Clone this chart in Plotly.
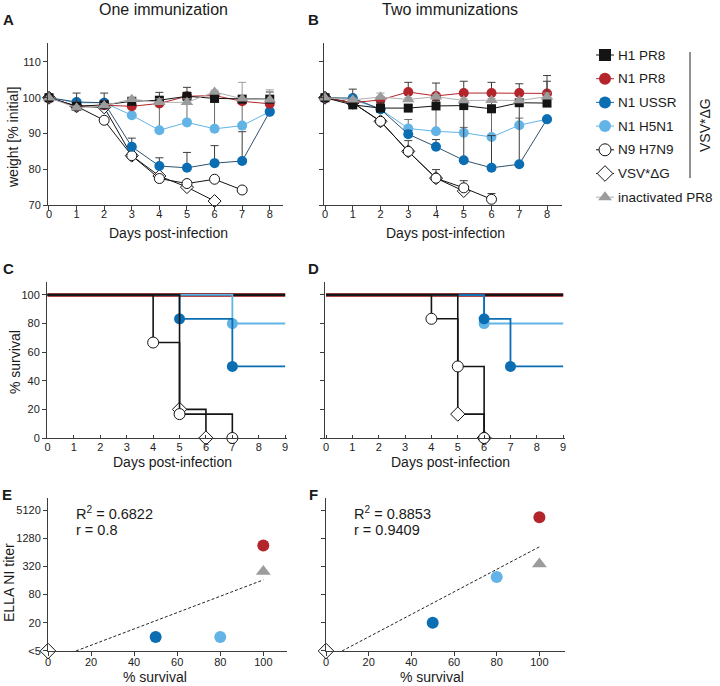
import plotly.graph_objects as go

# ---------------- data ----------------
series = ["H1 PR8", "N1 PR8", "N1 USSR", "N1 H5N1", "N9 H7N9", "VSV*ΔG", "inactivated PR8"]
days = [0, 1, 2, 3, 4, 5, 6, 7, 8]

# one immunization: mean weight [% initial]
w1_H1 = [100, 97.6, 98.0, 99.0, 99.3, 100.4, 99.8, 99.6, 99.6]
w1_N1PR8 = [100, 97.6, 97.9, 97.6, 98.4, 100.4, 100.6, 99.0, 98.3]
w1_USSR = [100, 98.8, 98.6, 86.3, 80.9, 80.4, 81.7, 82.3, 96.1]
w1_H5N1 = [100, 98.6, 98.6, 95.1, 90.9, 93.1, 91.3, 92.2, 96.1]
w1_H7N9 = [100, 97.6, 93.7, 83.8, 77.4, 76.0, 77.2, 74.2, None]
w1_VSV = [100, 97.6, 97.3, 83.8, 78.1, 75.0, 71.1, None, None]
w1_inact = [100, 97.2, 97.8, 99.6, 98.7, 98.7, 101.6, 99.7, 99.4]
# upper error bars
e1_H1 = [0, 3.7, 3.3, 0.5, 2.2, 2.5, 1.0, 1.0, 2.0]
e1_N1PR8 = [0, 0, 0, 0.8, 1.0, 1.0, 1.0, 0.8, 1.0]
e1_USSR = [0, 0.5, 0.5, 2.4, 2.3, 4.3, 4.9, 8.2, 0]
e1_H5N1 = [0, 0, 0, 3.0, 8.5, 5.4, 8.5, 6.5, 0]
e1_H7N9 = [0, 0, 0, 0, 0, 0, 0, 0, 0]
e1_VSV = [0, 0, 0, 0, 0, 0, 0, 0, 0]
e1_inact = [0, 0.5, 0.5, 0.3, 1.0, 1.0, 0.5, 4.6, 2.8]

# two immunizations
w2_H1 = [100, 98.0, 97.1, 97.1, 97.7, 97.8, 96.9, 98.6, 98.5]
w2_N1PR8 = [100, 98.6, 99.4, 101.6, 100.5, 101.3, 101.3, 101.3, 101.2]
w2_USSR = [100, 99.9, 96.8, 89.8, 86.3, 82.5, 80.4, 81.4, 94.0]
w2_H5N1 = [100, 99.5, 96.8, 91.4, 90.6, 90.2, 89.0, 92.3, 94.0]
w2_H7N9 = [100, 98.6, 93.4, 85.0, 77.5, 74.8, 71.6, None, None]
w2_VSV = [100, 98.6, 93.4, 85.0, 77.5, 73.9, None, None, None]
w2_inact = [100, 99.4, 100.2, 99.5, 100.3, 99.2, 99.3, 99.2, 100.3]
e2_H1 = [0, 4.4, 1.5, 1.0, 1.5, 1.0, 1.0, 1.0, 7.7]
e2_N1PR8 = [0, 0, 0.6, 2.7, 3.6, 3.3, 3.0, 2.6, 3.4]
e2_USSR = [0, 0, 0, 1.0, 2.0, 15.3, 9.0, 17.2, 0]
e2_H5N1 = [0, 0, 0, 2.5, 7.0, 1.5, 10.0, 2.0, 0]
e2_H7N9 = [0, 0, 0, 3.0, 2.4, 2.0, 1.6, 0, 0]
e2_VSV = [0, 0, 0, 0, 0, 0, 0, 0, 0]
e2_inact = [0, 0.5, 1.1, 0.5, 0.5, 0.5, 0.5, 0.5, 1.0]

# survival (Kaplan-Meier event times / % survival)
follow_up_end = 9
s1_H1_t, s1_H1_v = [0], [100]
s1_N1PR8_t, s1_N1PR8_v = [0], [100]
s1_inact_t, s1_inact_v = [0], [100]
s1_USSR_t, s1_USSR_v = [0, 5, 7], [100, 83.3, 50]
s1_H5N1_t, s1_H5N1_v = [0, 7], [100, 80]
s1_H7N9_t, s1_H7N9_v = [0, 4, 5, 7], [100, 66.7, 16.7, 0]
s1_VSV_t, s1_VSV_v = [0, 5, 6], [100, 20, 0]

s2_H1_t, s2_H1_v = [0], [100]
s2_N1PR8_t, s2_N1PR8_v = [0], [100]
s2_inact_t, s2_inact_v = [0], [100]
s2_USSR_t, s2_USSR_v = [0, 6, 7], [100, 83.3, 50]
s2_H5N1_t, s2_H5N1_v = [0, 6], [100, 80]
s2_H7N9_t, s2_H7N9_v = [0, 4, 5, 6], [100, 83.3, 50, 0]
s2_VSV_t, s2_VSV_v = [0, 5, 6], [100, 16.7, 0]

# correlation: survival vs ELLA NI titer
corr_groups = ["VSV*ΔG", "N1 USSR", "N1 H5N1", "N1 PR8", "inactivated PR8"]
corr1_surv = [0, 50, 80, 100, 100]
corr1_titer = [5, 10, 10, 900, 250]
corr2_surv = [0, 50, 80, 100, 100]
corr2_titer = [5, 20, 190, 3600, 360]
fit1_x, fit1_y = [13, 100], [5, 165]
fit2_x, fit2_y = [7.5, 100], [5, 840]
stats1 = ["R<sup>2</sup> = 0.6822", "r = 0.8"]
stats2 = ["R<sup>2</sup> = 0.8853", "r = 0.9409"]
titer_ticks = [5, 20, 80, 320, 1280, 5120]
titer_labels = ["<5", "20", "80", "320", "1280", "5120"]

# ---------------- style ----------------
FONT = "Liberation Sans, Arial, sans-serif"
BLACK, RED, DBLUE, LBLUE, GRAY = "#141414", "#b3242b", "#0b6db2", "#62b3e6", "#9c9c9c"
AX = "#3c3c3c"
W, H = 720, 686

style = {
    "H1 PR8": dict(symbol="square", color=BLACK, line=BLACK, lc=BLACK, size=9, ec=AX),
    "N1 PR8": dict(symbol="circle", color=RED, line=RED, lc=RED, size=10, ec=AX),
    "N1 USSR": dict(symbol="circle", color=DBLUE, line=DBLUE, lc="#30526e", size=10, ec=AX),
    "N1 H5N1": dict(symbol="circle", color=LBLUE, line=LBLUE, lc=LBLUE, size=10, ec="#6a6a6a"),
    "N9 H7N9": dict(symbol="circle", color="white", line=BLACK, lc=BLACK, size=10, ec=AX),
    "VSV*ΔG": dict(symbol="diamond", color="white", line=BLACK, lc=BLACK, size=10, ec=AX),
    "inactivated PR8": dict(symbol="triangle-up", color=GRAY, line=GRAY, lc="#b0b0b0", size=11, ec=GRAY),
}


def dx(a, b):
    return [a / W, b / W]


def dy(top, bottom):
    return [1 - bottom / H, 1 - top / H]


fig = go.Figure()


def weight_trace(name, y, err, xa, ya):
    s = style[name]
    open_marker = s["color"] == "white"
    fig.add_trace(go.Scatter(
        x=days, y=y, mode="lines+markers", name=name, showlegend=False,
        xaxis=xa, yaxis=ya, cliponaxis=False, connectgaps=False,
        line=dict(color=s["lc"], width=1),
        marker=dict(symbol=s["symbol"], size=s["size"], color=s["color"],
                    line=dict(color=s["line"], width=1 if open_marker else 0)),
        error_y=dict(type="data", symmetric=False, array=err, arrayminus=[0] * len(err),
                     color=s["ec"], thickness=1, width=4),
    ))


order = ["VSV*ΔG", "N9 H7N9", "N1 H5N1", "N1 USSR", "N1 PR8", "H1 PR8", "inactivated PR8"]
w1 = {"H1 PR8": (w1_H1, e1_H1), "N1 PR8": (w1_N1PR8, e1_N1PR8), "N1 USSR": (w1_USSR, e1_USSR),
      "N1 H5N1": (w1_H5N1, e1_H5N1), "N9 H7N9": (w1_H7N9, e1_H7N9), "VSV*ΔG": (w1_VSV, e1_VSV),
      "inactivated PR8": (w1_inact, e1_inact)}
w2 = {"H1 PR8": (w2_H1, e2_H1), "N1 PR8": (w2_N1PR8, e2_N1PR8), "N1 USSR": (w2_USSR, e2_USSR),
      "N1 H5N1": (w2_H5N1, e2_H5N1), "N9 H7N9": (w2_H7N9, e2_H7N9), "VSV*ΔG": (w2_VSV, e2_VSV),
      "inactivated PR8": (w2_inact, e2_inact)}
for n in order:
    weight_trace(n, w1[n][0], w1[n][1], "x", "y")
    weight_trace(n, w2[n][0], w2[n][1], "x2", "y2")


def surv_trace(name, t, v, xa, ya, width):
    s = style[name]
    lx, ly = list(t), list(v)
    if ly[-1] > 0:
        lx.append(follow_up_end)
        ly.append(ly[-1])
    col = s["line"] if s["color"] == "white" else s["color"]
    fig.add_trace(go.Scatter(x=lx, y=ly, mode="lines", line=dict(color=col, width=width, shape="hv"),
                             xaxis=xa, yaxis=ya, showlegend=False, cliponaxis=False, hoverinfo="skip"))
    if len(t) > 1:
        fig.add_trace(go.Scatter(x=t[1:], y=v[1:], mode="markers", xaxis=xa, yaxis=ya, showlegend=False,
                                 cliponaxis=False,
                                 marker=dict(symbol=s["symbol"], size=11, color=s["color"],
                                             line=dict(color=s["line"], width=1 if s["color"] == "white" else 0))))


s1 = {"inactivated PR8": (s1_inact_t, s1_inact_v, 3.5), "N1 PR8": (s1_N1PR8_t, s1_N1PR8_v, 3.5),
      "H1 PR8": (s1_H1_t, s1_H1_v, 2.2), "N1 H5N1": (s1_H5N1_t, s1_H5N1_v, 1.8),
      "N1 USSR": (s1_USSR_t, s1_USSR_v, 1.8), "VSV*ΔG": (s1_VSV_t, s1_VSV_v, 1.6),
      "N9 H7N9": (s1_H7N9_t, s1_H7N9_v, 1.6)}
s2 = {"inactivated PR8": (s2_inact_t, s2_inact_v, 3.5), "N1 PR8": (s2_N1PR8_t, s2_N1PR8_v, 3.5),
      "H1 PR8": (s2_H1_t, s2_H1_v, 2.2), "N1 H5N1": (s2_H5N1_t, s2_H5N1_v, 1.8),
      "N1 USSR": (s2_USSR_t, s2_USSR_v, 1.8), "VSV*ΔG": (s2_VSV_t, s2_VSV_v, 1.6),
      "N9 H7N9": (s2_H7N9_t, s2_H7N9_v, 1.6)}
for n, (t, v, wdt) in s1.items():
    surv_trace(n, t, v, "x3", "y3", wdt)
for n, (t, v, wdt) in s2.items():
    surv_trace(n, t, v, "x4", "y4", wdt)


def corr_panel(sx, ty, fx, fy, xa, ya):
    fig.add_trace(go.Scatter(x=fx, y=fy, mode="lines", line=dict(color="#222", width=1, dash="3px,2px"),
                             xaxis=xa, yaxis=ya, showlegend=False, hoverinfo="skip"))
    for g, xs, ys in zip(corr_groups, sx, ty):
        s = style[g]
        fig.add_trace(go.Scatter(x=[xs], y=[ys], mode="markers", xaxis=xa, yaxis=ya, showlegend=False,
                                 cliponaxis=False,
                                 marker=dict(symbol=s["symbol"], size=12 if g != "inactivated PR8" else 13,
                                             color=s["color"],
                                             line=dict(color=s["line"], width=1 if s["color"] == "white" else 0))))


corr_panel(corr1_surv, corr1_titer, fit1_x, fit1_y, "x5", "y5")
corr_panel(corr2_surv, corr2_titer, fit2_x, fit2_y, "x6", "y6")

# ---------------- custom legend (drawn on a hidden pixel-scaled helper axis) ----------------
leg_x0, leg_y0, leg_dy = 605, 55, 23.7
for i, n in enumerate(series):
    s = style[n]
    yy = leg_y0 + leg_dy * i
    fig.add_trace(go.Scatter(x=[596, 614], y=[yy, yy], mode="lines",
                             line=dict(color=s["lc"] if n != "N1 USSR" else DBLUE, width=1),
                             xaxis="x7", yaxis="y7", showlegend=False, hoverinfo="skip"))
    fig.add_trace(go.Scatter(x=[leg_x0], y=[yy], mode="markers", xaxis="x7", yaxis="y7", showlegend=False,
                             marker=dict(symbol=s["symbol"], size=12, color=s["color"],
                                         line=dict(color=s["line"], width=1 if s["color"] == "white" else 0))))

# ---------------- layout ----------------
tickfont = dict(family=FONT, size=11, color="#222")
base = dict(showgrid=False, zeroline=False, showline=True, linecolor=AX, linewidth=1, automargin=False,
            ticks="outside", ticklen=4, tickcolor=AX, tickwidth=1, tickfont=tickfont)
xa_w = dict(base, ticklabelstandoff=-5)
xa_s = dict(base, ticklabelstandoff=-1)
xa_c = dict(base, ticklabelstandoff=-3)

lay = dict(
    width=W, height=H, margin=dict(l=0, r=0, t=0, b=0, autoexpand=False),
    paper_bgcolor="white", plot_bgcolor="rgba(0,0,0,0)", showlegend=False,
    font=dict(family=FONT, color="#222"),
    xaxis=dict(xa_w, domain=dx(48, 283), range=[-0.036, 8.48], tickvals=days, anchor="y"),
    yaxis=dict(base, domain=dy(43, 205), range=[70, 115.3], tickvals=[70, 80, 90, 100, 110], anchor="x"),
    xaxis2=dict(xa_w, domain=dx(324, 562), range=[-0.036, 8.54], tickvals=days, anchor="y2"),
    yaxis2=dict(base, domain=dy(43, 205), range=[70, 115.3], tickvals=[70, 80, 90, 100, 110],
                showticklabels=False, anchor="x2"),
    xaxis3=dict(xa_s, domain=dx(47, 287), range=[-0.02, 9.07], tickvals=list(range(10)), ticks="inside",
                ticklen=3, anchor="y3"),
    yaxis3=dict(base, domain=dy(282, 438), range=[0, 109], tickvals=[0, 20, 40, 60, 80, 100], anchor="x3"),
    xaxis4=dict(xa_s, domain=dx(325, 565), range=[-0.04, 9.07], tickvals=list(range(10)), ticks="inside",
                ticklen=3, anchor="y4"),
    yaxis4=dict(base, domain=dy(282, 438), range=[0, 109], tickvals=[0, 20, 40, 60, 80, 100],
                showticklabels=False, anchor="x4"),
    xaxis5=dict(xa_c, domain=dx(48, 287), range=[0, 111], tickvals=[0, 20, 40, 60, 80, 100], anchor="y5"),
    yaxis5=dict(base, domain=dy(498, 651), type="log", range=[0.6985, 3.968], tickvals=titer_ticks,
                ticktext=titer_labels, anchor="x5"),
    xaxis6=dict(xa_c, domain=dx(326, 565), range=[0, 112], tickvals=[0, 20, 40, 60, 80, 100], anchor="y6"),
    yaxis6=dict(base, domain=dy(498, 651), type="log", range=[0.6985, 3.968], tickvals=titer_ticks,
                showticklabels=False, anchor="x6"),
    xaxis7=dict(domain=dx(588, 720), range=[588, W], visible=False, anchor="y7", automargin=False),
    yaxis7=dict(domain=dy(40, 210), range=[210, 40], visible=False, anchor="x7", automargin=False),
)
fig.update_layout(**lay)

ann = []


def text(s, x, y, size, bold=False, angle=0, xanchor="center"):
    ann.append(dict(text=f"<b>{s}</b>" if bold else s, x=x / W, y=1 - y / H, xref="paper", yref="paper",
                    showarrow=False, textangle=angle, xanchor=xanchor, yanchor="middle",
                    font=dict(family=FONT, size=size, color="#1a1a1a")))


text("One immunization", 163, 9, 16)
text("Two immunizations", 450, 9, 16)
for L, x, y in [("A", 8, 20), ("B", 313, 20), ("C", 8, 268), ("D", 313, 268), ("E", 7, 494), ("F", 313, 494)]:
    text(L, x, y, 15, bold=True)
text("Days post-infection", 168, 233, 14)
text("Days post-infection", 445, 233, 14)
text("Days post-infection", 172, 462, 14)
text("Days post-infection", 450, 462, 14)
text("% survival", 155, 677, 14)
text("% survival", 432, 677, 14)
text("weight [% initial]", 13, 138, 14, angle=-90)
text("% survival", 15, 362, 14, angle=-90)
text("ELLA NI titer", 9, 583, 14, angle=-90)
for i, s in enumerate(stats1):
    text(s, 74, 513 + 17 * i, 14.5, xanchor="left")
for i, s in enumerate(stats2):
    text(s, 352, 513 + 17 * i, 14.5, xanchor="left")
for i, n in enumerate(series):
    text(n, 616, leg_y0 + leg_dy * i, 13.5, xanchor="left")
text("VSV*ΔG", 705, 125, 14, angle=-90)

fig.update_layout(annotations=ann, shapes=[
    dict(type="line", xref="paper", yref="paper", x0=690 / W, x1=690 / W, y0=1 - 52 / H, y1=1 - 178 / H,
         line=dict(color="#222", width=1))
])

fig.write_html("out.html", config={"displayModeBar": False, "responsive": False},
               post_script="document.body.style.margin='0';document.body.style.overflow='hidden';")
